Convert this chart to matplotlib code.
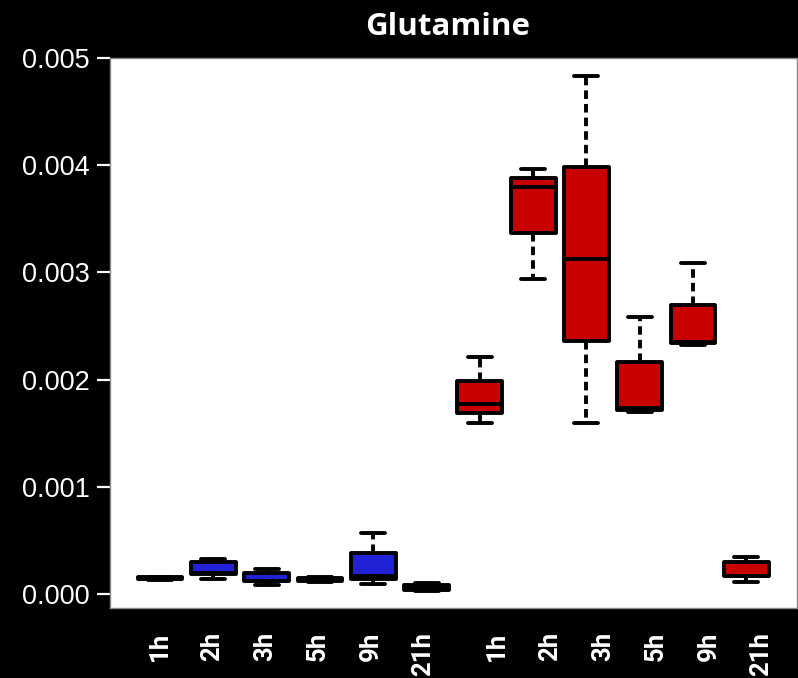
import matplotlib.pyplot as plt
import numpy as np

plt.rcParams['font.family'] = ['Liberation Sans', 'DejaVu Sans']

timepoints = ["1h", "2h", "3h", "5h", "9h", "21h"]

# five-number summaries per timepoint (low whisker, Q1, median, Q3, high whisker)
ctrl_low = [0.000135, 0.000140, 0.000085, 0.000110, 0.000093, 0.000030]
ctrl_q1 = [0.000140, 0.000187, 0.000118, 0.000120, 0.000140, 0.000040]
ctrl_med = [0.000145, 0.000200, 0.000125, 0.000130, 0.000170, 0.000060]
ctrl_q3 = [0.000155, 0.000298, 0.000195, 0.000150, 0.000382, 0.000080]
ctrl_high = [0.000160, 0.000326, 0.000233, 0.000160, 0.000569, 0.000100]

trt_low = [0.00160, 0.00294, 0.00160, 0.00170, 0.00232, 0.000112]
trt_q1 = [0.00169, 0.00337, 0.00236, 0.00172, 0.00234, 0.000168]
trt_med = [0.00177, 0.00380, 0.003125, 0.00174, 0.00235, 0.000170]
trt_q3 = [0.00199, 0.00388, 0.00398, 0.002165, 0.00270, 0.000298]
trt_high = [0.00221, 0.003965, 0.00483, 0.00258, 0.00309, 0.000345]

blue = "#2121D6"
red = "#C80000"

fig = plt.figure(figsize=(7.98, 6.78), dpi=100, facecolor="black")
ax = fig.add_axes([110 / 798, 1 - 608 / 678, 687 / 798, 550 / 678])
ax.set_facecolor("white")

def make_stats(low, q1, med, q3, high):
    return [dict(whislo=a, q1=b, med=c, q3=d, whishi=e, fliers=[])
            for a, b, c, d, e in zip(low, q1, med, q3, high)]

stats = make_stats(ctrl_low, ctrl_q1, ctrl_med, ctrl_q3, ctrl_high) + \
        make_stats(trt_low, trt_q1, trt_med, trt_q3, trt_high)
positions = np.arange(1, len(stats) + 1)
lw = 2.8

bp = ax.bxp(stats, positions=positions, widths=0.84, capwidths=0.45,
            patch_artist=True, showfliers=False,
            boxprops=dict(linewidth=lw, edgecolor="black"),
            medianprops=dict(color="black", linewidth=lw, solid_capstyle="butt"),
            whiskerprops=dict(color="black", linewidth=lw, linestyle=(0, (2.2, 1.3))),
            capprops=dict(color="black", linewidth=lw, solid_capstyle="round"))
for i, box in enumerate(bp["boxes"]):
    box.set_facecolor(blue if i < len(timepoints) else red)
    box.set_joinstyle("round")

ax.set_xlim(0.062, 12.95)
ax.set_ylim(-0.00013, 0.005)
ax.set_yticks(np.arange(0, 0.0051, 0.001))
ax.set_yticklabels([f"{v:.3f}" for v in np.arange(0, 0.0051, 0.001)])
ax.tick_params(axis="y", colors="white", length=9.5, width=1.6, pad=5, labelsize=19.5)

# group labels sit slightly off the box centres
label_pos = list(1 + np.arange(6) * 0.987) + list(7.33 + np.arange(6) * 0.99)
ax.set_xticks(label_pos)
ax.set_xticklabels(timepoints * 2, rotation=90, fontweight="bold",
                   fontstretch="normal", family=["Roboto", "DejaVu Sans"])
ax.tick_params(axis="x", length=0, pad=17, labelsize=18.5, colors="white")

for sp in ax.spines.values():
    sp.set_color("#8a8a8a")
    sp.set_linewidth(1)

fig.text(448 / 798, 1 - 27 / 678, "Glutamine", color="white", fontsize=22.5,
         fontweight="bold", family="Open Sans", ha="center", va="center")

fig.savefig("out.png", dpi=100, facecolor="black")
